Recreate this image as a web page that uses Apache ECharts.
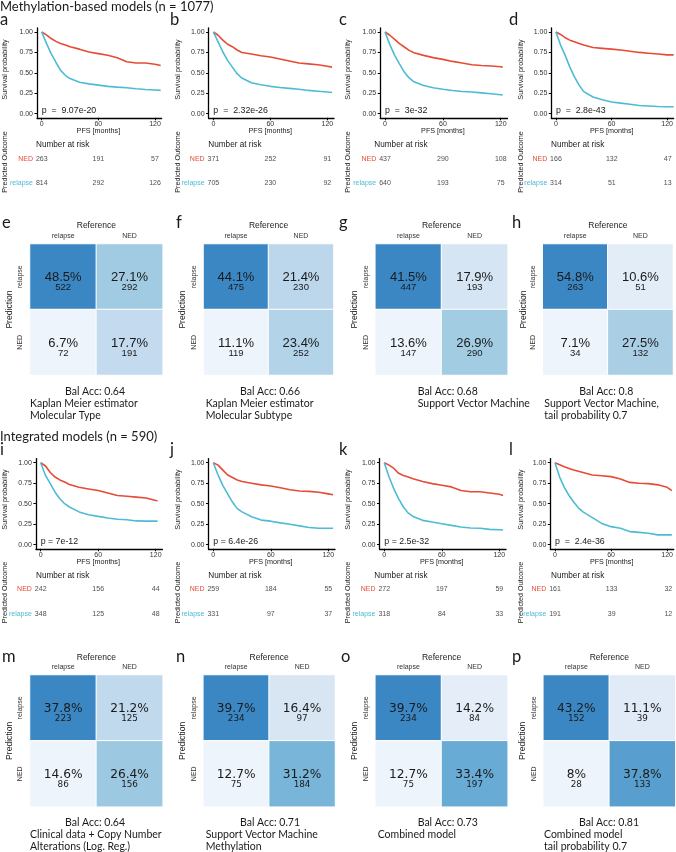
<!DOCTYPE html>
<html><head><meta charset="utf-8">
<script src="https://cdn.jsdelivr.net/npm/echarts@6/dist/echarts.min.js"></script>
<style>html,body{margin:0;padding:0;background:#fff}#c{width:676px;height:852px}</style>
</head><body><div id="c"></div>
<script>
// ---------------- DATA ----------------
const RED = '#E64B35', CYAN = '#4DBBD5';
const T = [0,5,10,15,20,25,30,40,50,60,70,80,90,100,110,120];
const RISK_T = [0,60,120];
const X_TICKS = [0,60,120];
const Y_TICKS = [0,0.25,0.5,0.75,1];

// Kaplan-Meier curves (survival probability at T, plus last follow-up time)
const km_a_end = 126, km_a_ned = [1,.965,.92,.885,.86,.84,.82,.79,.755,.735,.715,.685,.635,.62,.62,.605,.59];
const km_a_rel = [1,.86,.735,.63,.53,.47,.43,.385,.365,.35,.335,.325,.318,.305,.297,.29,.285];
const km_b_end = 125, km_b_ned = [1,.96,.90,.85,.82,.78,.75,.73,.71,.694,.67,.645,.62,.61,.60,.58,.57];
const km_b_rel = [1,.88,.755,.653,.57,.49,.437,.38,.355,.335,.32,.31,.30,.285,.275,.265,.26];
const km_c_end = 122, km_c_ned = [1,.96,.91,.857,.816,.775,.747,.714,.686,.665,.64,.62,.60,.59,.584,.575,.57];
const km_c_rel = [1,.845,.714,.61,.51,.437,.39,.345,.318,.30,.285,.272,.265,.255,.245,.233,.23];
const km_d_end = 127, km_d_ned = [1,.97,.93,.90,.88,.86,.84,.81,.80,.79,.78,.765,.75,.74,.73,.72,.72];
const km_d_rel = [1,.84,.714,.57,.45,.35,.27,.205,.17,.143,.13,.115,.10,.094,.088,.085,.085];
const km_i_end = 122, km_i_ned = [1,.96,.88,.825,.79,.765,.735,.70,.68,.66,.63,.60,.59,.58,.57,.54,.535];
const km_i_rel = [1,.845,.745,.64,.56,.50,.46,.40,.366,.345,.325,.31,.305,.29,.287,.287,.287];
const km_j_end = 125, km_j_ned = [1,.97,.91,.85,.82,.79,.77,.75,.73,.715,.695,.67,.655,.65,.64,.62,.61];
const km_j_rel = [1,.85,.72,.62,.52,.44,.40,.34,.30,.287,.266,.25,.23,.21,.20,.20,.20];
const km_k_end = 124, km_k_ned = [1,.97,.93,.87,.845,.825,.805,.77,.745,.725,.705,.66,.645,.645,.63,.615,.60];
const km_k_rel = [1,.825,.68,.56,.46,.385,.345,.297,.276,.256,.236,.215,.203,.20,.187,.183,.18];
const km_l_end = 125, km_l_ned = [1,.975,.95,.93,.91,.895,.88,.85,.84,.83,.80,.76,.75,.745,.73,.70,.66];
const km_l_rel = [1,.825,.70,.60,.52,.45,.40,.33,.26,.22,.20,.16,.15,.14,.12,.12,.12];

// Number at risk at 0, 60, 120 months
const risk_a_ned = [263,191,57],  risk_a_rel = [814,292,126];
const risk_b_ned = [371,252,91],  risk_b_rel = [705,230,92];
const risk_c_ned = [437,290,108], risk_c_rel = [640,193,75];
const risk_d_ned = [166,132,47],  risk_d_rel = [314,51,13];
const risk_i_ned = [242,156,44],  risk_i_rel = [348,125,48];
const risk_j_ned = [259,184,55],  risk_j_rel = [331,97,37];
const risk_k_ned = [272,197,59],  risk_k_rel = [318,84,33];
const risk_l_ned = [161,133,32],  risk_l_rel = [191,39,12];

const pvals = {a:'p  =  9.07e-20', b:'p  =  2.32e-26', c:'p  =  3e-32', d:'p  =  2.8e-43',
               i:'p = 7e-12', j:'p = 6.4e-26', k:'p = 2.5e-32', l:'p  =  2.4e-36'};

// Confusion matrices: [pred relapse/ref relapse, pred relapse/ref NED, pred NED/ref relapse, pred NED/ref NED]
const REF_CATS = ['relapse','NED'];
const PRED_CATS = ['NED','relapse'];
const cm_e_pct = [48.5,27.1,6.7,17.7],  cm_e_n = [522,292,72,191];
const cm_f_pct = [44.1,21.4,11.1,23.4], cm_f_n = [475,230,119,252];
const cm_g_pct = [41.5,17.9,13.6,26.9], cm_g_n = [447,193,147,290];
const cm_h_pct = [54.8,10.6,7.1,27.5],  cm_h_n = [263,51,34,132];
const cm_m_pct = [37.8,21.2,14.6,26.4], cm_m_n = [223,125,86,156];
const cm_n_pct = [39.7,16.4,12.7,31.2], cm_n_n = [234,97,75,184];
const cm_o_pct = [39.7,14.2,12.7,33.4], cm_o_n = [234,84,75,197];
const cm_p_pct = [43.2,11.1,8,37.8],    cm_p_n = [152,39,28,133];

const captions = {
  e:['Bal Acc: 0.64','Kaplan Meier estimator','Molecular Type'],
  f:['Bal Acc: 0.66','Kaplan Meier estimator','Molecular Subtype'],
  g:['Bal Acc: 0.68','Support Vector Machine'],
  h:['Bal Acc: 0.8','Support Vector Machine,','tail probability 0.7'],
  m:['Bal Acc: 0.64','Clinical data + Copy Number','Alterations (Log. Reg.)'],
  n:['Bal Acc: 0.71','Support Vector Machine','Methylation'],
  o:['Bal Acc: 0.73','Combined model'],
  p:['Bal Acc: 0.81','Combined model','tail probability 0.7']
};

// ---------------- LAYOUT ----------------
const CELL_X = [0,1,0,1], CELL_Y = [1,1,0,0];
const BLUES = ['#EEF4FB','#C6DBEF','#9ECAE1','#6BAED6','#3B87C4'];
const KM_ROWS = {
  top:{top:27.9,h:89.9,ylabY:69.5,pfsY:131,narY:145,riskTop:146.4,riskH:49.2,poY:162,letterY:20,pY:110.3},
  bot:{top:458.6,h:90.2,ylabY:499.5,pfsY:562.3,narY:575.7,riskTop:576.8,riskH:50,poY:592.5,letterY:449.5,pY:541.3}
};
const KM_COLS = {
  a:{row:'top',left:37,w:124.6,ylabX:5,letterX:0,narX:36},
  b:{row:'top',left:208.6,w:125.4,ylabX:178.5,letterX:170,narX:208.3},
  c:{row:'top',left:380.2,w:127.3,ylabX:347.7,letterX:339,narX:374.3},
  d:{row:'top',left:551.3,w:122.9,ylabX:521,letterX:509,narX:551},
  i:{row:'bot',left:35.9,w:126.5,ylabX:5,letterX:0,narX:36},
  j:{row:'bot',left:208.5,w:126.5,ylabX:178.5,letterX:170,narX:208.3},
  k:{row:'bot',left:379.5,w:126.5,ylabX:347.7,letterX:339,narX:374.3},
  l:{row:'bot',left:550.3,w:124.6,ylabX:521,letterX:509,narX:551}
};
const CM_LAYOUT = {
  e:{left:30,top:244,w:132.7,h:131,predX:10,letterX:2,refY:225.7,letterY:223,capX:[65,30,30],capY:[391.7,404,415.7],font:'Liberation Sans'},
  f:{left:203.5,top:244,w:130,h:131,predX:182.5,letterX:176,refY:225.7,letterY:223,capX:[240,205.7,205.7],capY:[391.7,404,415.7],font:'Liberation Sans'},
  g:{left:375.3,top:244,w:132.4,h:131,predX:355,letterX:339,refY:225.7,letterY:223,capX:[417.7,417.7],capY:[391.7,404],font:'Liberation Sans'},
  h:{left:542.7,top:244,w:130.3,h:131,predX:523.5,letterX:512,refY:225.7,letterY:223,capX:[579.3,544.3,544.3],capY:[391.7,404,415.7],font:'Liberation Sans'},
  m:{left:30,top:675,w:132.7,h:131.7,predX:10,letterX:2,refY:657.3,letterY:656.5,capX:[65,30,30],capY:[822.7,835,846.7],font:'DejaVu Sans'},
  n:{left:203.3,top:675,w:131.7,h:131.7,predX:182.5,letterX:176,refY:657.3,letterY:656.5,capX:[240,205.7,205.7],capY:[822.7,835,846.7],font:'DejaVu Sans'},
  o:{left:375.3,top:675,w:132.4,h:131.7,predX:355,letterX:341,refY:657.3,letterY:656.5,capX:[417.7,377.7],capY:[822.7,835],font:'DejaVu Sans'},
  p:{left:543.3,top:675,w:132,h:131.7,predX:522.7,letterX:512,refY:657.3,letterY:656.5,capX:[579,544,544],capY:[822.7,835,846.7],font:'DejaVu Sans'}
};

// ---------------- BUILD ----------------
const grids=[], xAxes=[], yAxes=[], series=[], visualMaps=[], graphics=[];
const SANS = 'Liberation Sans', HUM = 'Lato';
function txt(x,y,text,o){
  o = o||{};
  graphics.push({type:'text', x:x, y:y, rotation:o.rot||0, silent:true, z:100,
    style:{text:text, fill:o.color||'#1a1a1a', fontSize:o.size||8, fontFamily:o.font||SANS,
      fontWeight:o.weight||'normal', textAlign:o.align||'left', textVerticalAlign:o.va||'middle'}});
}

const KM = {
  a:{end:km_a_end,ned:km_a_ned,rel:km_a_rel,rn:risk_a_ned,rr:risk_a_rel},
  b:{end:km_b_end,ned:km_b_ned,rel:km_b_rel,rn:risk_b_ned,rr:risk_b_rel},
  c:{end:km_c_end,ned:km_c_ned,rel:km_c_rel,rn:risk_c_ned,rr:risk_c_rel},
  d:{end:km_d_end,ned:km_d_ned,rel:km_d_rel,rn:risk_d_ned,rr:risk_d_rel},
  i:{end:km_i_end,ned:km_i_ned,rel:km_i_rel,rn:risk_i_ned,rr:risk_i_rel},
  j:{end:km_j_end,ned:km_j_ned,rel:km_j_rel,rn:risk_j_ned,rr:risk_j_rel},
  k:{end:km_k_end,ned:km_k_ned,rel:km_k_rel,rn:risk_k_ned,rr:risk_k_rel},
  l:{end:km_l_end,ned:km_l_ned,rel:km_l_rel,rn:risk_l_ned,rr:risk_l_rel}
};
const XMIN=-5, XMAX=127;

Object.keys(KM).forEach(function(key){
  const D = KM[key], C = KM_COLS[key], R = KM_ROWS[C.row];
  const gi = grids.length;
  grids.push({left:C.left, top:R.top, width:C.w, height:R.h});
  xAxes.push({gridIndex:gi, type:'value', min:XMIN, max:XMAX,
    axisLine:{show:true,onZero:false,lineStyle:{color:'#000',width:1.3}},
    axisTick:{show:true,length:2.5,lineStyle:{color:'#000',width:1},customValues:X_TICKS},
    axisLabel:{customValues:X_TICKS,fontSize:7,color:'#333',margin:3,fontFamily:SANS},
    splitLine:{show:false}});
  yAxes.push({gridIndex:gi, type:'value', min:-0.05, max:1.05,
    axisLine:{show:true,onZero:false,lineStyle:{color:'#000',width:1.3}},
    axisTick:{show:true,length:2.5,lineStyle:{color:'#000',width:1},customValues:Y_TICKS},
    axisLabel:{customValues:Y_TICKS,formatter:function(v){return Number(v).toFixed(2);},fontSize:7,color:'#333',margin:4,fontFamily:SANS},
    splitLine:{show:false}});
  const times = T.concat([D.end]);
  const mk = function(arr){ return times.map(function(t,i){ return [t, arr[i]]; }); };
  series.push({type:'line', xAxisIndex:gi, yAxisIndex:gi, data:mk(D.ned), showSymbol:false, symbol:'none',
    lineStyle:{color:RED,width:1.6}, itemStyle:{color:RED}, silent:true, z:3});
  series.push({type:'line', xAxisIndex:gi, yAxisIndex:gi, data:mk(D.rel), showSymbol:false, symbol:'none',
    lineStyle:{color:CYAN,width:1.6}, itemStyle:{color:CYAN}, silent:true, z:3});

  // risk table
  const ri = grids.length;
  grids.push({left:C.left, top:R.riskTop, width:C.w, height:R.riskH});
  xAxes.push({gridIndex:ri, type:'value', min:XMIN, max:XMAX, show:false});
  yAxes.push({gridIndex:ri, type:'category', data:['relapse','NED'],
    axisLine:{show:false}, axisTick:{show:false}, splitLine:{show:false},
    axisLabel:{margin:4, formatter:function(v){ return v==='NED' ? '{r|NED}' : '{c|relapse}'; },
      rich:{r:{color:RED,fontSize:7,fontFamily:SANS}, c:{color:CYAN,fontSize:7,fontFamily:SANS}}}});
  const rdata = [];
  RISK_T.forEach(function(t,i){ rdata.push([t,'NED',D.rn[i]]); rdata.push([t,'relapse',D.rr[i]]); });
  series.push({type:'scatter', xAxisIndex:ri, yAxisIndex:ri, data:rdata, symbolSize:1,
    itemStyle:{color:'rgba(0,0,0,0)'}, silent:true,
    label:{show:true, position:'inside', formatter:function(p){return p.value[2];}, fontSize:7, color:'#1a1a1a', fontFamily:SANS}});

  // texts
  const ppm = C.w/(XMAX-XMIN);
  const x0 = C.left + (0-XMIN)*ppm, x60 = C.left + (60-XMIN)*ppm;
  txt(C.ylabX, R.ylabY, 'Survival probability', {rot:Math.PI/2, align:'center', size:7.2});
  txt(x60, R.pfsY, 'PFS [months]', {align:'center', size:7.2});
  txt(x0, R.pY, pvals[key], {size:8.8});
  txt(C.narX, R.narY, 'Number at risk', {size:8.2});
  txt(C.ylabX, R.poY, 'Predicted Outcome', {rot:Math.PI/2, align:'center', size:7.2});
  txt(C.letterX, R.letterY, key, {size:16.5, font:HUM});
});

const CM = {
  e:{pct:cm_e_pct,n:cm_e_n}, f:{pct:cm_f_pct,n:cm_f_n}, g:{pct:cm_g_pct,n:cm_g_n}, h:{pct:cm_h_pct,n:cm_h_n},
  m:{pct:cm_m_pct,n:cm_m_n}, n:{pct:cm_n_pct,n:cm_n_n}, o:{pct:cm_o_pct,n:cm_o_n}, p:{pct:cm_p_pct,n:cm_p_n}
};
Object.keys(CM).forEach(function(key){
  const D = CM[key], L = CM_LAYOUT[key];
  const gi = grids.length;
  grids.push({left:L.left, top:L.top, width:L.w, height:L.h});
  xAxes.push({gridIndex:gi, type:'category', position:'top', data:REF_CATS,
    axisLine:{show:false}, axisTick:{show:false}, splitLine:{show:false},
    axisLabel:{fontSize:7, margin:4, color:'#333', fontFamily:SANS}});
  yAxes.push({gridIndex:gi, type:'category', data:PRED_CATS,
    axisLine:{show:false}, axisTick:{show:false}, splitLine:{show:false},
    axisLabel:{fontSize:7, rotate:90, margin:6, color:'#333', fontFamily:SANS}});
  const si = series.length;
  const data = D.pct.map(function(v,i){ return [CELL_X[i], CELL_Y[i], v]; });
  const big = L.font === 'DejaVu Sans' ? 12.2 : 13;
  const small = L.font === 'DejaVu Sans' ? 8.8 : 9.5;
  series.push({type:'heatmap', xAxisIndex:gi, yAxisIndex:gi, data:data, silent:true,
    itemStyle:{borderColor:'#ffffff', borderWidth:1},
    emphasis:{disabled:true},
    label:{show:true, offset:[0,5.5],
      formatter:function(p){ return '{p|' + D.pct[p.dataIndex] + '%}\n{n|' + D.n[p.dataIndex] + '}'; },
      rich:{p:{fontSize:big, lineHeight:11, color:'#1a1a1a', fontFamily:L.font},
            n:{fontSize:small, lineHeight:9, color:'#1a1a1a', fontFamily:L.font}}}});
  visualMaps.push({type:'continuous', show:false, seriesIndex:si, dimension:2,
    min:Math.min.apply(null,D.pct), max:Math.max.apply(null,D.pct), inRange:{color:BLUES}});

  txt(L.left + L.w/2, L.refY, 'Reference', {align:'center', size:8.5});
  txt(L.predX, L.top + L.h/2, 'Prediction', {rot:Math.PI/2, align:'center', size:8.6});
  txt(L.letterX, L.letterY, key, {size:16.5, font:HUM});
  captions[key].forEach(function(line,i){
    txt(L.capX[i], L.capY[i], line, {size:10.5, font:HUM});
  });
});

txt(0, 7, 'Methylation-based models (n = 1077)', {size:13, font:HUM});
txt(0, 436.5, 'Integrated models (n = 590)', {size:13, font:HUM});

const chart = echarts.init(document.getElementById('c'), null, {renderer:'canvas', width:676, height:852});
chart.setOption({
  animation:false,
  backgroundColor:'#ffffff',
  grid:grids, xAxis:xAxes, yAxis:yAxes, series:series, visualMap:visualMaps,
  graphic:{elements:graphics}
});
</script></body></html>
